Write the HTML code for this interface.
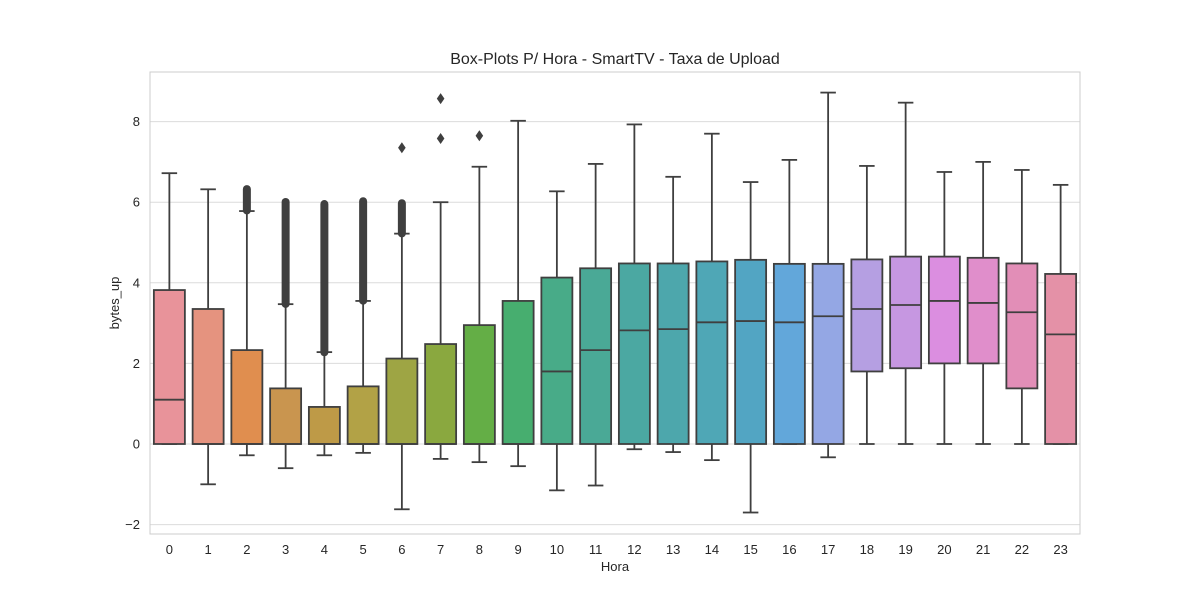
<!DOCTYPE html>
<html><head><meta charset="utf-8"><style>
body{margin:0;background:#fff;}
text{font-family:"Liberation Sans",sans-serif;fill:#262626;}
</style></head><body>
<svg id="chart" width="1200" height="600" xmlns="http://www.w3.org/2000/svg">
<rect width="1200" height="600" fill="#fff"/>
<g id="grid"></g><g id="boxes"></g><g id="axes"></g>
</svg>
<script>
const categories=["0","1","2","3","4","5","6","7","8","9","10","11","12","13","14","15","16","17","18","19","20","21","22","23"];
const whiskerLow=[0,-1.0,-0.28,-0.6,-0.28,-0.22,-1.62,-0.37,-0.45,-0.55,-1.15,-1.03,-0.13,-0.2,-0.4,-1.7,0,-0.33,0,0,0,0,0,0];
const q1=[0,0,0,0,0,0,0,0,0,0,0,0,0,0,0,0,0,0,1.8,1.88,2.0,2.0,1.38,0];
const medians=[1.1,0,0,0,0,0,0,0,0,0,1.8,2.33,2.82,2.85,3.02,3.05,3.02,3.17,3.35,3.45,3.55,3.5,3.27,2.72];
const q3=[3.82,3.35,2.33,1.38,0.92,1.43,2.12,2.48,2.95,3.55,4.13,4.36,4.48,4.48,4.53,4.57,4.47,4.47,4.58,4.65,4.65,4.62,4.48,4.22];
const whiskerHigh=[6.72,6.32,5.78,3.47,2.28,3.55,5.22,6.0,6.88,8.02,6.27,6.95,7.93,6.63,7.7,6.5,7.05,8.72,6.9,8.47,6.75,7.0,6.8,6.43];
const outlierBands=[[2,5.82,6.3],[3,3.5,5.98],[4,2.3,5.93],[5,3.58,6.0],[6,5.25,5.95]];
const outliers=[[6,7.35],[7,7.58],[7,8.57],[8,7.65]];
const yTicks=[-2,0,2,4,6,8];
const colors=["#e8939a","#e5937f","#e08e4f","#c9954f","#be9a47","#b2a246","#9ea544","#8aa83f","#64ae46","#47ae6f","#48ab88","#4aa996","#4ba8a2","#4da7ac","#4fa7b6","#52a5c3","#62a7da","#94a7e4","#b59fe2","#c697e1","#db8ee0","#e08ecb","#e28eb7","#e491a7"];
const L=150,R=1080,T=72,B=534;
const y=v=>444-v*40.3;
const bw=(R-L)/categories.length;
const x=i=>L+bw*(i+0.5);
const NS="http://www.w3.org/2000/svg";
function mk(tag,a,p){const e=document.createElementNS(NS,tag);for(const k in a)e.setAttribute(k,a[k]);p.appendChild(e);return e;}
const grid=document.getElementById('grid'),boxes=document.getElementById('boxes'),axes=document.getElementById('axes');
yTicks.forEach(t=>{
 const g=mk('line',{x1:L,x2:R,y1:y(t),y2:y(t),stroke:'#dcdcdc','stroke-width':1},grid);
 
 
 const tx=mk('text',{x:L-10,y:y(t)+4.5,'text-anchor':'end','font-size':13},axes);
 tx.textContent=t<0?'\u2212'+(-t):t;
 
 
});
const fr=mk('rect',{x:L,y:T,width:R-L,height:B-T,fill:'none',stroke:'#cccccc','stroke-width':1},axes);


const st='#3f3f3f',sw=1.8,w=bw*0.8;
categories.forEach((c,i)=>{
 const cx=x(i);
 const g=mk('g',{},boxes);
 
 
 mk('line',{x1:cx,x2:cx,y1:y(whiskerLow[i]),y2:y(q1[i]),stroke:st,'stroke-width':sw},g);
 mk('line',{x1:cx,x2:cx,y1:y(q3[i]),y2:y(whiskerHigh[i]),stroke:st,'stroke-width':sw},g);
 mk('line',{x1:cx-w/4,x2:cx+w/4,y1:y(whiskerLow[i]),y2:y(whiskerLow[i]),stroke:st,'stroke-width':sw},g);
 mk('line',{x1:cx-w/4,x2:cx+w/4,y1:y(whiskerHigh[i]),y2:y(whiskerHigh[i]),stroke:st,'stroke-width':sw},g);
 mk('rect',{x:cx-w/2,y:y(q3[i]),width:w,height:Math.max(0,y(q1[i])-y(q3[i])),fill:colors[i],stroke:st,'stroke-width':sw},g);
 mk('line',{x1:cx-w/2,x2:cx+w/2,y1:y(medians[i]),y2:y(medians[i]),stroke:st,'stroke-width':sw},g);
 const tx=mk('text',{x:cx,y:B+20,'text-anchor':'middle','font-size':13},axes);
 tx.textContent=c;
 
 
});
outlierBands.forEach(b=>{
 const r=mk('rect',{x:x(b[0])-4,y:y(b[2])-5,width:8,height:y(b[1])-y(b[2])+10,rx:4,fill:st},boxes);
 
 
});
outliers.forEach(o=>{
 const cx=x(o[0]),cy=y(o[1]);
 const p=mk('polygon',{points:`${cx},${cy-5.5} ${cx+3.8},${cy} ${cx},${cy+5.5} ${cx-3.8},${cy}`,fill:st},boxes);
 
 
});
</script>
<svg style="position:absolute;left:0;top:0" width="1200" height="600">
<text x="615" y="64" text-anchor="middle" font-size="16">Box-Plots P/ Hora - SmartTV - Taxa de Upload</text>
<text x="615" y="571" text-anchor="middle" font-size="13">Hora</text>
<text x="0" y="0" transform="translate(119,303) rotate(-90)" text-anchor="middle" font-size="13">bytes_up</text>
</svg>
</body></html>
